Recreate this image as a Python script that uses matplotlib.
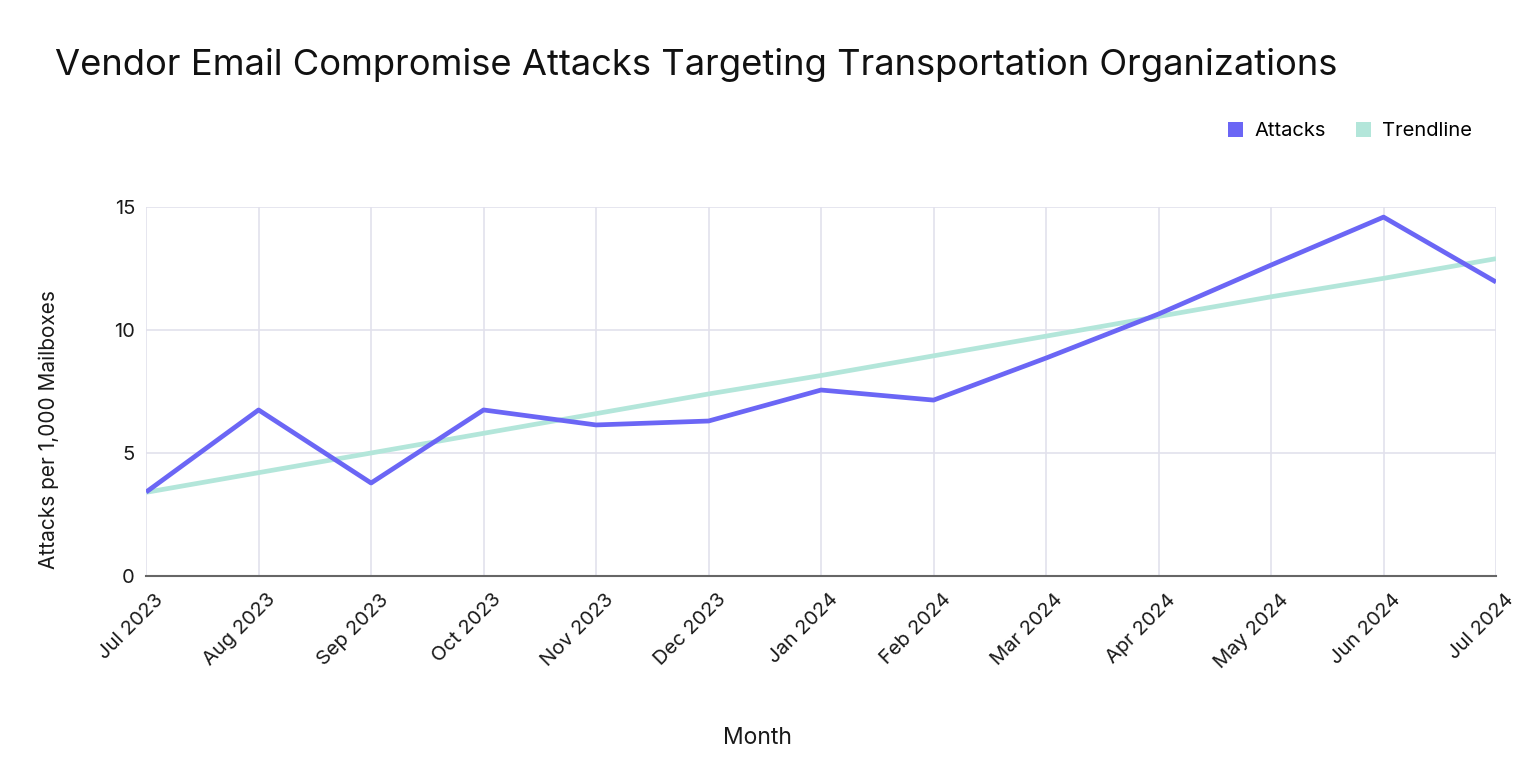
import matplotlib
matplotlib.use("Agg")
import matplotlib.pyplot as plt
import matplotlib.transforms as mtransforms
from matplotlib.patches import Patch

months = ["Jul 2023", "Aug 2023", "Sep 2023", "Oct 2023", "Nov 2023", "Dec 2023",
          "Jan 2024", "Feb 2024", "Mar 2024", "Apr 2024", "May 2024", "Jun 2024", "Jul 2024"]
attacks = [3.41, 6.75, 3.78, 6.75, 6.14, 6.30, 7.56, 7.15, 8.86, 10.65, 12.64, 14.59, 11.95]
trendline = [3.40, 4.20, 5.00, 5.80, 6.60, 7.40, 8.15, 8.95, 9.75, 10.55, 11.35, 12.10, 12.90]
yticks = [0, 5, 10, 15]

plt.rcParams['font.family'] = ['Inter', 'DejaVu Sans']

fig = plt.figure(figsize=(15.36, 7.63), dpi=100)
ax = fig.add_axes([0.0951, 0.2451, 0.8789, 0.4836])

x = list(range(len(months)))
ax.plot(x, trendline, color="#b3e6da", lw=3.4, solid_capstyle="butt", zorder=3)
ax.plot(x, attacks, color="#6b66f5", lw=3.4, solid_capstyle="butt", zorder=4)

ax.set_xlim(0, len(months) - 1)
ax.set_ylim(0, 15)
ax.set_yticks(yticks)
ax.set_yticklabels([str(v) for v in yticks], fontsize=14.5, color="#1a1a1a")
ax.set_xticks(x)
ax.set_xticklabels(months, rotation=45, ha="right", rotation_mode="anchor",
                   fontsize=14.5, color="#1a1a1a")
ax.tick_params(axis="both", length=0)
ax.tick_params(axis="x", pad=12)
ax.tick_params(axis="y", pad=8)
offset = mtransforms.ScaledTranslation(8 / 100, 2 / 100, fig.dpi_scale_trans)
for lbl in ax.get_xticklabels():
    lbl.set_transform(lbl.get_transform() + offset)

ax.grid(True, color="#e2e1ec", lw=1.2, zorder=0)
for s in ["left", "right", "top"]:
    ax.spines[s].set_visible(False)
ax.spines["bottom"].set_color("#666666")
ax.spines["bottom"].set_linewidth(1.5)
ax.spines["bottom"].set_zorder(5)

ax.set_ylabel("Attacks per 1,000 Mailboxes", fontsize=15, color="#1a1a1a")
ax.yaxis.set_label_coords(-0.0644, 0.398)
ax.set_xlabel("Month", fontsize=16.5, color="#1a1a1a")
ax.xaxis.set_label_coords(0.453, -0.409)

fig.text(0.0358, 0.915, "Vendor Email Compromise Attacks Targeting Transportation Organizations",
         fontsize=26.2, color="#111111", va="center", ha="left")

handles = [Patch(facecolor="#6b66f5", edgecolor="none", label="Attacks"),
           Patch(facecolor="#b3e6da", edgecolor="none", label="Trendline")]
fig.legend(handles=handles, loc="center right", bbox_to_anchor=(0.970, 0.828),
           frameon=False, fontsize=14.5, handlelength=0.75, handleheight=0.75,
           handletextpad=0.55, columnspacing=1.5, ncol=2)

fig.savefig("out.png", dpi=100, facecolor="white")
